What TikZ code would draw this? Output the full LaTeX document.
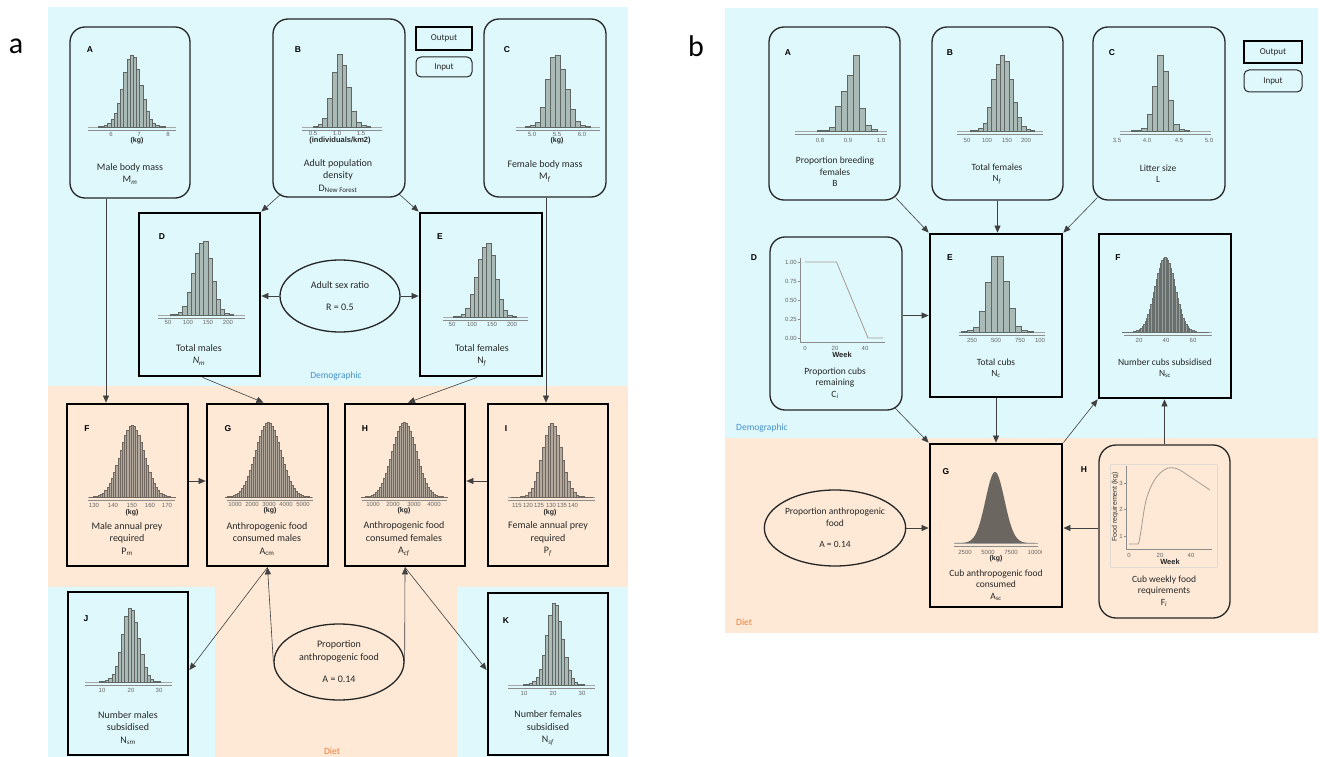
\documentclass[tikz,border=0pt]{standalone}
\usepackage{fontspec}
\setmainfont{Carlito}
\newfontfamily\axfont{Liberation Sans}
\usetikzlibrary{arrows.meta,shapes.geometric}

\definecolor{bgblue}{RGB}{222,248,252}
\definecolor{bgpeach}{RGB}{253,233,213}
\definecolor{histfill}{RGB}{170,186,182}
\definecolor{histline}{RGB}{95,102,100}
\definecolor{preyfill}{RGB}{178,168,156}
\definecolor{preyline}{RGB}{112,104,96}
\definecolor{cubfill}{RGB}{150,158,156}
\definecolor{foodfill}{RGB}{108,102,96}
\definecolor{demotext}{RGB}{72,144,204}
\definecolor{diettext}{RGB}{236,128,64}
\definecolor{txt}{RGB}{40,40,40}
\definecolor{curvecol}{RGB}{165,155,145}

\tikzset{
  every node/.style={text=txt},
  inbox/.style={draw=black!85, line width=1.3pt, rounded corners=15pt},
  outbox/.style={draw=black, line width=2.8pt},
  ell/.style={ellipse, draw=black!85, line width=1.3pt, inner sep=0pt, align=center,
              font=\fontsize{10}{12.5}\selectfont},
  capA/.style={align=center, inner sep=0pt, font=\fontsize{10}{12.5}\selectfont},
  capB/.style={align=center, inner sep=0pt, font=\fontsize{9.5}{11.5}\selectfont},
  letter/.style={font=\axfont\bfseries\fontsize{8.5}{9}\selectfont, text=black, inner sep=0pt},
  tick/.style={font=\axfont\fontsize{6}{6.5}\selectfont, text=black!60, inner sep=0pt},
  unit/.style={font=\axfont\bfseries\fontsize{7}{8}\selectfont, text=black!85, inner sep=0pt},
  zone/.style={font=\fontsize{9.5}{10}\selectfont, inner sep=0pt},
  panel/.style={font=\fontsize{30}{30}\selectfont, text=black, inner sep=0pt},
  legend/.style={font=\fontsize{9}{9.5}\selectfont, inner sep=0pt},
  baseln/.style={draw=black!35, line width=0.4pt},
  axln/.style={draw=black!45, line width=0.5pt},
  hbar/.style={fill=histfill, draw=histline, line width=0.35pt},
  pbar/.style={fill=preyfill, draw=preyline, line width=0.25pt},
  cbar/.style={fill=cubfill, draw=cubfill!70!black, line width=0.15pt},
  curve/.style={draw=curvecol, line width=0.8pt},
  arr/.style={-{Triangle[length=7pt,width=6pt]}, draw=black!75, line width=0.6pt},
}

% bars from an explicit list of heights: left x, base y, bar width, style, heights
\newcommand\bars[5]{\foreach \h [count=\i from 0] in {#5}{%
  \draw[#4] ({#1+\i*#3},#2) rectangle ++(#3,-\h);}}
% bell-shaped histogram: centre x, base y, peak, sigma, bar width, half count, style
\newcommand\gauss[7]{\foreach \k in {-#6,...,#6}{%
  \pgfmathsetmacro\hh{#3*exp(-0.5*((\k*#5)/#4)*((\k*#5)/#4))}%
  \draw[#7] ({#1+\k*#5-#5/2},#2) rectangle ++(#5,-\hh);}}
% tick labels: name prefix, y, list of x/label
\newcommand\ticks[3]{\foreach \tx/\tl [count=\ti] in {#3}{%
  \node[tick] (#1-\ti) at (\tx,#2) {\tl};}}
% zero line and axis line under a histogram: x1, x2, base y
\newcommand\hax[3]{\draw[baseln] (#1,#3) -- (#2,#3); \draw[axln] (#1,#3+3) -- (#2,#3+3);}

\begin{document}
\begin{tikzpicture}[x=1pt,y=-1pt]
\useasboundingbox (0,0) rectangle (1320,757);

% ---------- zone backgrounds ----------
\fill[bgblue] (48,7) rectangle (628,386);
\fill[bgpeach] (48,386) rectangle (628,757);
\fill[bgblue] (48,587) rectangle (215,757);
\fill[bgblue] (457,587) rectangle (628,757);
\fill[bgblue] (725,8) rectangle (1318,438);
\fill[bgpeach] (725,438) rectangle (1318,633);

\node[panel] (pa) at (16,46) {a};
\node[panel] (pb) at (696,46) {b};

% =====================================================
% Panel a
% =====================================================
\node[outbox, minimum width=56pt, minimum height=23pt, legend] (aout) at (444,38.5) {Output};
\node[inbox, rounded corners=5pt, line width=1pt, minimum width=56pt, minimum height=20pt, legend] (ain) at (444,67) {Input};

% A  male body mass
\node[inbox, minimum width=120pt, minimum height=171pt] (A) at (130,112.5) {};
\node[letter] (A-l) at (90,50) {A};
\hax{88}{176}{127}
\bars{98}{127}{3.2}{hbar}{0.5,1,2,4,8,14,24,38,55,68,72,70,58,42,28,16,8,4,2,1,0.5}
\ticks{A-t}{134}{111/6,139/7,168/8}
\node[unit] (A-u) at (137,141) {(kg)};
\node[capA] (A-c) at (130,174) {Male body mass\\M\textsubscript{\textit{m}}};

% B  population density
\node[inbox, minimum width=132pt, minimum height=178pt] (B) at (339,108) {};
\node[letter] (B-l) at (298,50) {B};
\hax{302}{382}{127}
\bars{313}{127}{4.8}{hbar}{0.8,2.5,9,29,55,73,62,40,16,5,1.5,0.5}
\ticks{B-t}{133.5}{313/0.5,337/1.0,361/1.5}
\node[unit, font=\axfont\bfseries\fontsize{7.5}{8}\selectfont] (B-u) at (340,140.5) {(individuals/km2)};
\node[capA] (B-c) at (338,176) {Adult population\\density\\D\textsubscript{New Forest}};

% C  female body mass
\node[inbox, minimum width=122pt, minimum height=178pt] (C) at (545,108) {};
\node[letter] (C-l) at (507,50) {C};
\hax{516}{600}{127}
\bars{525}{127}{5}{hbar}{0.5,1.5,5,20,48,70,72,58,38,18,6,2,0.5}
\ticks{C-t}{134}{532/5.0,557/5.5,582/6.0}
\node[unit] (C-u) at (557,141) {(kg)};
\node[capA] (C-c) at (545,171) {Female body mass\\M\textsubscript{\textit{f}}};

% D  total males
\node[outbox, minimum width=121pt, minimum height=163pt] (D) at (199.5,294.5) {};
\node[letter] (D-l) at (162,237) {D};
\hax{158}{245}{315}
\bars{170}{315}{4.2}{hbar}{0.5,1,3,9,23,42,62,72,74,57,34,16,6,2,0.5}
\ticks{D-t}{322}{168/50,188/100,208/150,228/200}
\node[capA] (D-c) at (199,355) {Total males\\\textit{N}\textsubscript{\textit{m}}};

% E  total females
\node[outbox, minimum width=122pt, minimum height=163pt] (E) at (481,294.5) {};
\node[letter] (E-l) at (440,237) {E};
\hax{443}{528}{317}
\bars{453}{317}{4.2}{hbar}{0.5,1,3,9,23,40,58,70,74,62,38,18,7,2,0.5}
\ticks{E-t}{324}{452/50,472/100,492/150,512/200}
\node[capA] (E-c) at (482,355) {Total females\\N\textsubscript{\textit{f}}};

% sex ratio
\node[ell, minimum width=120pt, minimum height=72pt] (SR) at (340,296) {Adult sex ratio\\[9pt]R = 0.5};

% F  male prey
\node[outbox, minimum width=121pt, minimum height=162pt] (F) at (127.5,485) {};
\node[letter] (F-l) at (87,429) {F};
\hax{88}{175}{497}
\gauss{132}{497}{72}{12}{2.2}{19}{pbar}
\ticks{F-t}{505}{94/130,113/140,132/150,150/160,167/170}
\node[unit] (F-u) at (132,513) {(kg)};
\node[capA] (F-c) at (127,539) {Male annual prey\\required\\P\textsubscript{\textit{m}}};

% G  anthropogenic food males
\node[outbox, minimum width=121pt, minimum height=162pt] (G) at (267.5,485) {};
\node[letter] (G-l) at (228,429) {G};
\hax{227}{313}{497}
\gauss{268}{497}{75}{12.5}{2}{21}{pbar}
\ticks{G-t}{504}{235/1000,252/2000,269/3000,286/4000,303/5000}
\node[unit] (G-u) at (270,511) {(kg)};
\node[capA] (G-c) at (267,539) {Anthropogenic food\\consumed males\\A\textsubscript{cm}};

% H  anthropogenic food females
\node[outbox, minimum width=120pt, minimum height=162pt] (H) at (405,485) {};
\node[letter] (H-l) at (365,429) {H};
\hax{362}{447}{497}
\gauss{404}{497}{75}{12}{2}{21}{pbar}
\ticks{H-t}{504}{373/1000,393/2000,414/3000,434/4000}
\node[unit] (H-u) at (404,511) {(kg)};
\node[capA] (H-c) at (404,539) {Anthropogenic food\\consumed females\\A\textsubscript{\textit{cf}}};

% I  female prey
\node[outbox, minimum width=120pt, minimum height=162pt] (I) at (548,485) {};
\node[letter] (I-l) at (506,429) {I};
\hax{508}{595}{497}
\gauss{552}{497}{74}{9.5}{2.8}{14}{pbar}
\ticks{I-t}{505}{517/115,528/120,539/125,551/130,562/135,573/140}
\node[unit] (I-u) at (550,513) {(kg)};
\node[capA] (I-c) at (548,539) {Female annual prey\\required\\P\textsubscript{\textit{f}}};

% J  males subsidised
\node[outbox, minimum width=120pt, minimum height=163pt] (J) at (128,673.5) {};
\node[letter] (J-l) at (86,619) {J};
\hax{85}{172}{682}
\bars{99}{682}{3.2}{hbar}{0.5,1,2,4,8,16,30,48,66,74,72,60,44,28,15,7,3,1,0.5}
\ticks{J-t}{690}{102/10,131/20,159/30}
\node[capA] (J-c) at (128,728) {Number males\\subsidised\\N\textsubscript{\textit{sm}}};

% K  females subsidised
\node[outbox, minimum width=120pt, minimum height=162pt] (K) at (548,674) {};
\node[letter] (K-l) at (506,621) {K};
\hax{508}{595}{685}
\bars{523}{685}{3.2}{hbar}{0.5,1,2,4,8,16,30,50,70,82,80,64,46,28,15,7,3,1,0.5}
\ticks{K-t}{693}{524/10,553/20,582/30}
\node[capA] (K-c) at (548,728) {Number females\\subsidised\\N\textsubscript{\textit{sf}}};

% proportion anthropogenic food
\node[ell, minimum width=130pt, minimum height=76pt] (PA) at (339,662) {Proportion\\anthropogenic food\\[10pt]A = 0.14};

\node[zone, text=demotext] (demoA) at (336,376) {Demographic};
\node[zone, text=diettext] (dietA) at (332,751) {Diet};

% connectors, panel a
\draw[arr] ([xshift=-24pt]A.south) -- ([xshift=-24pt]A.south |- F.north);
\draw[arr] ([xshift=1pt]C.south) -- ([xshift=1pt]C.south |- I.north);
\draw[arr] ([shift={(9,-4)}]B.south west) -- (D.north east);
\draw[arr] ([shift={(-7,-4)}]B.south east) -- (E.north west);
\draw[arr] (SR.west) -- (SR.west -| D.east);
\draw[arr] (SR.east) -- (SR.east -| E.west);
\draw[arr] ([xshift=3pt]D.south) -- ([xshift=-4pt]G.north);
\draw[arr] ([xshift=-4pt]E.south) -- ([xshift=3pt]H.north);
\draw[arr] ([yshift=4pt]F.east) -- ([yshift=4pt]G.west);
\draw[arr] ([yshift=4pt]I.west) -- ([yshift=4pt]H.east);
\draw[arr] (PA.west) -- (G.south);
\draw[arr] (PA.east) -- (H.south);
\draw[arr] (G.south) -- ([yshift=3.5pt]J.east);
\draw[arr] (H.south) -- ([yshift=4pt]K.west);

% =====================================================
% Panel b
% =====================================================
\node[outbox, minimum width=58pt, minimum height=22pt, legend] (bout) at (1273,52) {Output};
\node[inbox, rounded corners=5pt, line width=1pt, minimum width=58pt, minimum height=22pt, legend] (bin) at (1273,81) {Input};

% A  breeding females
\node[inbox, minimum width=131pt, minimum height=173pt] (bA) at (834.5,113.5) {};
\node[letter] (bA-l) at (788,53) {A};
\hax{795}{887}{131}
\bars{817}{131}{6}{hbar}{0.7,1,4,25,40,56,76,23,6,2}
\ticks{bA-t}{140}{820/0.8,848/0.9,881/1.0}
\node[capB] (bA-c) at (835,172) {Proportion breeding\\females\\B};

% B  total females
\node[inbox, minimum width=131pt, minimum height=173pt] (bB) at (997.5,113.5) {};
\node[letter] (bB-l) at (950,53) {B};
\hax{957}{1043}{131}
\bars{970}{131}{4.3}{hbar}{0.5,1,3,8,24,52,67,76,70,52,29,14,5,2,0.5}
\ticks{bB-t}{140}{967/50,987/100,1007/150,1026/200}
\node[capB] (bB-c) at (997,174) {Total females\\N\textsubscript{\textit{f}}};

% C  litter size
\node[inbox, minimum width=132pt, minimum height=173pt] (bC) at (1159,113.5) {};
\node[letter] (bC-l) at (1112,53) {C};
\hax{1120}{1211}{131}
\bars{1131}{131}{5.3}{hbar}{0.5,1,3,17,45,76,60,31,7,2,0.5}
\begin{scope}
  \clip (1100,135) rectangle (1212,145);
  \ticks{bC-t}{140}{1117/3.5,1147/4.0,1179/4.5,1209/5.0}
\end{scope}
\node[capB] (bC-c) at (1158,173.5) {Litter size\\L};

% D  cubs remaining
\node[inbox, minimum width=132pt, minimum height=173pt] (bD) at (836,323.5) {};
\node[letter] (bD-l) at (754,258) {D};
\draw[axln] (800,258) -- (800,342) -- (885,342);
\foreach \yv/\yl [count=\yi] in {262/1.00,281/0.75,300/0.50,319/0.25,338/0.00}{
  \draw[axln] (797.5,\yv) -- (800,\yv);
  \node[tick, anchor=east] (bD-y\yi) at (797,\yv) {\yl};}
\ticks{bD-x}{348}{805/0,835/20,865/40}
\node[unit, font=\axfont\bfseries\fontsize{7.5}{8}\selectfont] (bD-u) at (842,354.5) {Week};
\draw[curve] (805,262) -- (836.5,262) -- (868,338) -- (883,338);
\node[capB] (bD-c) at (835,383) {Proportion cubs\\remaining\\C\textsubscript{\textit{i}}};

% E  total cubs
\node[outbox, minimum width=132pt, minimum height=163pt] (bE) at (996,315.5) {};
\node[letter] (bE-l) at (950,258) {E};
\hax{959}{1045}{332}
\bars{961}{332}{6}{hbar}{0.5,1.5,5,21,50,76,76,51,24,6,1.5,0.5}
\ticks{bE-t}{340}{972/250,996/500,1020/750,1040/100}
\node[capB] (bE-c) at (996,368) {Total cubs\\N\textsubscript{\textit{c}}};

% F  cubs subsidised
\node[outbox, minimum width=132pt, minimum height=164pt] (bF) at (1165,316) {};
\node[letter] (bF-l) at (1118,258) {F};
\hax{1124}{1212}{332}
\gauss{1165}{332}{75}{10}{1.4}{30}{cbar}
\ticks{bF-t}{340}{1139/20,1166/40,1193/60}
\node[capB] (bF-c) at (1165,368) {Number cubs subsidised\\N\textsubscript{\textit{sc}}};

% proportion anthropogenic food
\node[ell, minimum width=136pt, minimum height=76pt, font=\fontsize{9.5}{12}\selectfont] (bPA) at (835,528) {Proportion anthropogenic\\food\\[9pt]A = 0.14};

% G  cub anthropogenic food
\node[outbox, minimum width=132pt, minimum height=163pt] (bG) at (996,525.5) {};
\node[letter] (bG-l) at (946,472) {G};
\hax{954}{1038}{543}
\fill[foodfill] (955,543) -- plot[domain=-40:40, samples=81]
  ({995+\x},{543-71*exp(-0.5*(\x/9.5)*(\x/9.5))}) -- (1035,543) -- cycle;
\begin{scope}
  \clip (950,547) rectangle (1041,557);
  \ticks{bG-t}{552}{965/2500,988/5000,1011/7500,1036/10000}
\end{scope}
\node[unit] (bG-u) at (996,559) {(kg)};
\node[capB] (bG-c) at (996,585) {Cub anthropogenic food\\consumed\\A\textsubscript{\textit{sc}}};

% H  weekly food requirement
\node[inbox, rounded corners=17pt, minimum width=131pt, minimum height=173pt] (bH) at (1164.5,531.5) {};
\node[letter] (bH-l) at (1084,470) {H};
\draw[draw=bgpeach!70!black!40, line width=0.5pt] (1110,464) rectangle (1217,567);
\draw[axln] (1126,466) -- (1126,549) -- (1212,549);
\foreach \yv/\yl [count=\yi] in {536/1,509/2,483/3}{
  \draw[axln] (1123.5,\yv) -- (1126,\yv);
  \node[tick, anchor=east] (bH-y\yi) at (1123,\yv) {\yl};}
\ticks{bH-x}{555}{1129/0,1160/20,1191/40}
\node[unit, font=\axfont\bfseries\fontsize{7.5}{8}\selectfont] (bH-u) at (1170,561.5) {Week};
\node[tick, font=\axfont\fontsize{7}{8}\selectfont, text=black!80, rotate=90] (bH-yl) at (1115,507) {Food requirement (kg)};
\draw[curve] (1129,544) -- (1138.3,544)
  .. controls (1140.5,538) and (1142.5,518) .. (1145,505)
  .. controls (1148,490) and (1156,472) .. (1168,468)
  .. controls (1178,466) and (1185,474) .. (1192,478)
  -- (1210,490);
\node[capB] (bH-c) at (1164,591) {Cub weekly food\\requirements\\F\textsubscript{\textit{i}}};

\node[zone, text=demotext, anchor=west] (demoB) at (736,428) {Demographic};
\node[zone, text=diettext, anchor=west] (dietB) at (736,622) {Diet};

% connectors, panel b
\draw[arr] ([shift={(-5,-3)}]bA.south east) -- (bE.north west);
\draw[arr] (bB.south) -- (bB.south |- bE.north);
\draw[arr] ([shift={(5,-3)}]bC.south west) -- (bE.north east);
\draw[arr] (bE.west -| bD.east) -- (bE.west);
\draw[arr] (bE.south) -- (bG.north);
\draw[arr] ([shift={(-8,-3)}]bD.south east) -- (bG.north west);
\draw[arr] (bG.north east) -- (bF.south west);
\draw[arr] (bH.north) -- (bH.north |- bF.south);
\draw[arr] (bPA.east) -- (bPA.east -| bG.west);
\draw[arr] ([yshift=3.5pt]bH.west) -- ([yshift=3.5pt]bH.west -| bG.east);

\end{tikzpicture}
\end{document}
